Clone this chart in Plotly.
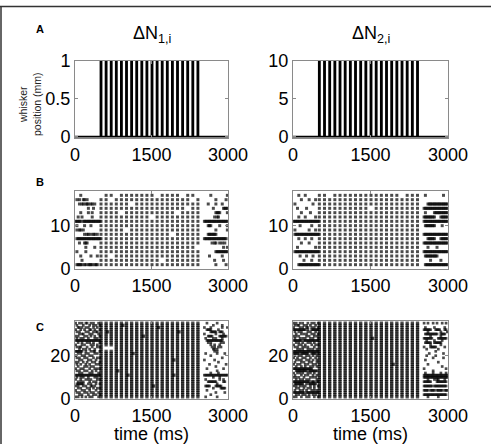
import plotly.graph_objects as go

FIG_W, FIG_H = 491, 444
FONT = "Liberation Sans, Arial, Helvetica, sans-serif"

T_MAX = 3000
PULSE_ONSETS = [500, 600, 700, 800, 900, 1000, 1100, 1200, 1300, 1400,
                1500, 1600, 1700, 1800, 1900, 2000, 2100, 2200, 2300, 2400]
PULSE_WIDTH = 20
AMPLITUDES = [1, 10]
TITLES = ["ΔN<sub>1,i</sub>", "ΔN<sub>2,i</sub>"]
X_TICKS = [0, 1500, 3000]
Y_TICKS_A = [[0, 0.5, 1], [0, 5, 10]]
Y_TICKTEXT_A = [["0", "0.5", "1"], ["0", "5", "10"]]
Y_TICKS_B = [0, 10]
Y_TICKS_C = [0, 20]
BIN_MS = 25
PRE_START = 0
POST_START = 2500
SPIKE_LATENCY = 10
DOUBLET_GAP = 30

# ---------- Row B (17 neurons), listed from top neuron to bottom neuron ----------
B1_PRE = [
    "....#...............",
    ".#.#..##.#..........",
    "...#.##.###.##.#....",
    "..........#...#.....",
    "....#.....#..#......",
    "..#..#.......#......",
    "#####.##############",
    ".#.....#....#.......",
    ".#.##.#.............",
    ".......#.##.#.##.#..",
    ".###################",
    "...#...###..........",
    "........#......#....",
    ".#......#...........",
    "....#.......#....#..",
    ".....#..............",
    ".#####.##.####.###..",
]
B1_STIM = [
    "01101111111011110110",
    "11011111111111111101",
    "11111101111111111111",
    "11111111111111111011",
    "11110111111111101111",
    "11111111110111111111",
    "11111111111111111111",
    "11111111111111111111",
    "11111011111111111111",
    "11111111111111011111",
    "11111111111111111111",
    "11111111111111111111",
    "11111111111111111110",
    "11111111111111111111",
    "11011111111111111111",
    "11111111111101111111",
    "11111111111111111111",
]
B1_POST = [
    "......#............#",
    "..........#.......#.",
    "....#.....#....#....",
    "........#.......####",
    "..........####.....#",
    ".........#.##.......",
    ".###################",
    "....###......#.....#",
    "..........#........#",
    "....#######.........",
    ".##################.",
    ".......#.##..#.#.#..",
    "................#..#",
    "..........##########",
    ".....#.........#....",
    ".........#......#...",
    "..........#.......#.",
]
B2_PRE = [
    "....#....#..........",
    "......#.....#....#..",
    ".#.............#....",
    "...#......#.........",
    "......#......#......",
    "....#....#.......#..",
    "####################",
    ".....#........#.....",
    ".#..........#....#..",
    ".###################",
    "....#....#....#.....",
    "......#.....#.......",
    "...#.............#..",
    ".###################",
    ".....#....#....#....",
    "........#.....#.....",
    "....################",
]
B2_STIM = [
    "11011111111111110111",
    "11111111111111111111",
    "11111111111111111111",
    "11111111110111111111",
    "11111111111111111111",
    "11111111111111111111",
    "11111111111111111111",
    "11111111111111111111",
    "11111111111111111111",
    "11111111111111111111",
    "11111111111111111111",
    "11111111111111111111",
    "11111111111111111111",
    "11111111111111111111",
    "11111111111111111111",
    "11111111111111111111",
    "11111111111111111111",
]
B2_POST = [
    "..#.............#...",
    "....................",
    "....################",
    ".###################",
    "..#......###########",
    ".#########....######",
    ".###################",
    "..########.....#....",
    "....................",
    ".###################",
    "....######....######",
    ".###################",
    "....#......#........",
    ".###################",
    "..##########........",
    "......#.......#.....",
    "..##################",
]

# ---------- Row C (35 neurons), listed from top neuron to bottom neuron ----------
C1_PRE = [
    "#..#.#..##..#.#...#.",
    ".#....#....#..#.#..#",
    "..##.#..#.#...#..#..",
    "#...#..#...##..#...#",
    ".#.#....#.#...#.##..",
    "...#.##....#.#....#.",
    "#.#....#.#..#..#...#",
    ".#..#.#...#....#.#..",
    "####################",
    "..#..#...#.#..#....#",
    "#....#.#....#.#..#..",
    ".#.##....#...#...#.#",
    "...#..#.#..#...#....",
    "######..#...#.##...#",
    "..#.#...#.#....#.#..",
    "#....#.#...#.#......",
    ".#.#...#.#....#..#.#",
    "...#.#....#.#...#...",
    "#.#...#..#...#.#...#",
    ".#..#...#..#....#.#.",
    "..#....#.#..#.#.....",
    "#...#.#....#...#.#.#",
    ".#.#...#.#...#..#...",
    "...#.#.....#.#....#.",
    "####################",
    ".#..#.#...#....#.#..",
    "#...#...#.#.#....#.#",
    "..#.#.#....#..#.#...",
    ".######...#.#...#..#",
    "#.#...#.#...##.#....",
    "..#.#....#.#..#..#.#",
    "#....#.#...#....#...",
    ".#.#...#.#..#.#...#.",
    "...#.#....#...#.#..#",
    "#.#..#..#..#.#....#.",
]
C1_STIM = [
    "11111111111111111111",
    "11112111111111111111",
    "11111111111211111111",
    "11111111111111111111",
    "12111111111111121111",
    "11111111111111111111",
    "11111111211111111111",
    "11111111111111111111",
    "11111111111111111111",
    "11111111111111111111",
    "11111111111111111111",
    "10011111111111111111",
    "10011111111111111111",
    "11111111111111111111",
    "11111121111111111111",
    "11111111111111111111",
    "11111111111111111111",
    "11111111111111211111",
    "11111111111111111111",
    "11111111111111111111",
    "11111111111111111111",
    "11111111111111111111",
    "11121111111111111111",
    "11111111111111111111",
    "11111211111111211111",
    "11111111111111111111",
    "11111111111111111111",
    "11111111111111111111",
    "11111111111111111111",
    "11111111112111111111",
    "11111111111111111111",
    "11111111111111111111",
    "11111111111111111111",
    "11111111111111111111",
    "11111111111111111111",
]
C1_POST = [
    "...#.......#........",
    "........#......#....",
    ".#....#........#...#",
    "...####.....#.......",
    "......#####..###....",
    ".#........#.....#...",
    "....####.....######.",
    "..#.....#.#....#....",
    "...#############....",
    "....#.#.......#.#...",
    "......#..#...#......",
    ".......#.#..#.#.....",
    "........##.#........",
    ".........#.#........",
    "..#........#.....#..",
    "......#.............",
    "...............#....",
    ".#.......#..........",
    "............#.......",
    ".....#............#.",
    "..........#.........",
    "...#............#...",
    "...........#........",
    "......#.....#.......",
    ".###################",
    "........#....#......",
    "..#..........#..#...",
    "....#######.....##..",
    "...........#........",
    "..####....#####.....",
    "........#.....####..",
    "...#................",
    "..........#......#..",
    "......#.............",
    "..#........#........",
]
C2_PRE = [
    "#.#..#.#...#..#.#..#",
    ".#.##...#.#..#...#..",
    "#....#.#..##..#.#..#",
    "##########.#..######",
    ".#..#.#....#.#...#..",
    "..#...#.#.#...#.#..#",
    "#.#.#.....#.#...#.#.",
    ".#...#.#.#...#.#...#",
    "#######.############",
    "..#.#..#...#.#..#...",
    "#...#.#..#....#..#.#",
    ".#.#...#.#.#....#...",
    "...#.#.#...#.#.#..#.",
    "####################",
    "#####.######..####.#",
    ".#..#.#...#.#..#..#.",
    "#..#...#.#...#...#..",
    "..#.#.#...#.#..#..#.",
    ".#....#.#...#.#...#.",
    "#..#.#...#.#...#.#..",
    "..#...#..#...#.#..#.",
    "###############.....",
    "..#########.#######.",
    "#..#.#.#...#.#..#...",
    ".#....#..#.#...#..#.",
    "#.#.#...#....#.#.#..",
    "..#..#.#..#.#.....#.",
    "#############.###.##",
    ".#######..#.######..",
    "#.#..#.#.#...#..#..#",
    "..#.#...#..#.#..#...",
    ".#...#.#..#...#.#.#.",
    "#########.##########",
    "..#.#..#.#..#..#.#..",
    "#.#...#...#.#...#..#",
]
C2_STIM = [
    "11111111111111111111",
    "11111111111111111111",
    "11111111111111111111",
    "11111111111111111111",
    "11111111111111111111",
    "11111111111111111111",
    "11111111111111111111",
    "11111111112111111111",
    "11111111111111111111",
    "11111111111111111111",
    "11111111111111111111",
    "11111111111111111111",
    "11111111111111111111",
    "11111111111111111111",
    "11111111111111111111",
    "11111111111111111111",
    "11111111111111111111",
    "11111111111111111111",
    "11111111111111111111",
    "11111111111111211111",
    "11111111111111111111",
    "11111111111111111111",
    "11111111111111111111",
    "11111111111111111111",
    "11111111111111111111",
    "11111111111111111111",
    "11111111111111111111",
    "11111111111111111111",
    "11111111111111111111",
    "11111111111111111111",
    "11111111111111111111",
    "11111111111111111111",
    "11111111111111111111",
    "11111111111111111111",
    "11111111111111111111",
]
C2_POST = [
    ".#..#...#..#...#..#.",
    "....................",
    "..#......#.......#..",
    ".######...####...##.",
    "....#.........#....#",
    "..##########..####..",
    "......#.......#.....",
    ".#######....#######.",
    "...#.....#.....#....",
    "..#####..######.....",
    "......#.......#.....",
    ".#....#####......#..",
    "...#........#.......",
    "..........#.........",
    ".....#..........#...",
    "...#......#.........",
    "........#.......#...",
    "..#.................",
    "............#.......",
    "....#...............",
    "...............#....",
    ".#................#.",
    "........#...........",
    "..#.....#.....#...#.",
    ".###################",
    ".###################",
    "....#....#.##....#..",
    ".######....########.",
    "....................",
    ".#######.##########.",
    "....................",
    ".####.####.#####.###",
    "....................",
    ".##################.",
    "....#.......#.......",
]


def raster(pre_rows, stim_rows, post_rows):
    """Return spike times, neuron ids and a flag telling if the spike is stimulus-locked."""
    n = len(pre_rows)
    xs, ys, locked = [], [], []
    for i in range(n):
        nid = n - i
        for b, c in enumerate(pre_rows[i]):
            if c == "#":
                xs.append(PRE_START + b * BIN_MS + BIN_MS / 2)
                ys.append(nid)
                locked.append(False)
        for k, c in enumerate(stim_rows[i]):
            if c in "12":
                xs.append(PULSE_ONSETS[k] + SPIKE_LATENCY)
                ys.append(nid)
                locked.append(True)
            if c == "2":
                xs.append(PULSE_ONSETS[k] + SPIKE_LATENCY + DOUBLET_GAP)
                ys.append(nid)
                locked.append(True)
        for b, c in enumerate(post_rows[i]):
            if c == "#":
                xs.append(POST_START + b * BIN_MS + BIN_MS / 2)
                ys.append(nid)
                locked.append(False)
    return xs, ys, locked, n


def whisker_trace(amp):
    xs, ys = [0], [0]
    for on in PULSE_ONSETS:
        xs += [on, on, on + PULSE_WIDTH, on + PULSE_WIDTH]
        ys += [0, amp, amp, 0]
    xs.append(T_MAX)
    ys.append(0)
    return xs, ys


def px_x(p):
    return p / FIG_W


def px_y(p):
    return 1 - p / FIG_H


COL_X = [(75, 228), (293, 448)]
ROW_Y = [(61, 138), (191, 269), (321, 399)]

fig = go.Figure()

AX_LINE = "#8a8a8a"
base_axis = dict(
    showline=True, linecolor=AX_LINE, linewidth=1, mirror="ticks",
    ticks="inside", ticklen=3, tickcolor=AX_LINE, tickwidth=1,
    showgrid=False, zeroline=False, automargin=False,
    tickfont=dict(family=FONT, size=18, color="black"),
)

layout_axes = {}
ax_idx = 0
for r in range(3):
    for c in range(2):
        ax_idx += 1
        xname = "x" if ax_idx == 1 else f"x{ax_idx}"
        yname = "y" if ax_idx == 1 else f"y{ax_idx}"
        if r == 0:
            amp = AMPLITUDES[c]
            xs, ys = whisker_trace(amp)
            fig.add_trace(go.Scatter(x=xs, y=ys, mode="lines",
                                     line=dict(color="black", width=1.8),
                                     xaxis=xname, yaxis=yname, showlegend=False,
                                     hoverinfo="skip"))
            yr = [-0.018 * amp, amp]
            ytv, ytt = Y_TICKS_A[c], Y_TICKTEXT_A[c]
        else:
            if r == 1:
                data = (B1_PRE, B1_STIM, B1_POST) if c == 0 else (B2_PRE, B2_STIM, B2_POST)
                ytv = Y_TICKS_B
                sizes = (3.0, 3.0)
            else:
                data = (C1_PRE, C1_STIM, C1_POST) if c == 0 else (C2_PRE, C2_STIM, C2_POST)
                ytv = Y_TICKS_C
                sizes = (2.7, 3.3)
            xs, ys, locked, n = raster(*data)
            msz = [sizes[1] if lk else sizes[0] for lk in locked]
            fig.add_trace(go.Scatter(x=xs, y=ys, mode="markers",
                                     marker=dict(symbol="square", size=msz, color="black",
                                                 line=dict(width=0)),
                                     xaxis=xname, yaxis=yname, showlegend=False,
                                     hoverinfo="skip"))
            yr = [0, n + 1]
            ytt = [str(v) for v in ytv]
        x0, x1 = COL_X[c]
        y0, y1 = ROW_Y[r]
        xa = dict(base_axis, domain=[px_x(x0), px_x(x1)], range=[0, T_MAX],
                  tickvals=X_TICKS, ticktext=[str(v) for v in X_TICKS],
                  anchor=yname)
        ya = dict(base_axis, domain=[px_y(y1), px_y(y0)], range=yr,
                  tickvals=ytv, ticktext=ytt, anchor=xname)
        layout_axes["xaxis" if ax_idx == 1 else f"xaxis{ax_idx}"] = xa
        layout_axes["yaxis" if ax_idx == 1 else f"yaxis{ax_idx}"] = ya

annotations = []
for c, title in enumerate(TITLES):
    cx = (COL_X[c][0] + COL_X[c][1]) / 2
    annotations.append(dict(text=title, x=px_x(cx), y=px_y(34), xref="paper", yref="paper",
                            xanchor="center", yanchor="middle", showarrow=False,
                            font=dict(family=FONT, size=18, color="black")))
    annotations.append(dict(text="time (ms)", x=px_x(cx), y=px_y(434), xref="paper", yref="paper",
                            xanchor="center", yanchor="middle", showarrow=False,
                            font=dict(family=FONT, size=18, color="black")))
for letter, py in (("A", 29), ("B", 182), ("C", 327)):
    annotations.append(dict(text=f"<b>{letter}</b>", x=px_x(40), y=px_y(py), xref="paper",
                            yref="paper", xanchor="center", yanchor="middle", showarrow=False,
                            font=dict(family=FONT, size=11, color="black")))
annotations.append(dict(text="whisker<br>position (mm)", x=px_x(30), y=px_y(104), xref="paper",
                        yref="paper", xanchor="center", yanchor="middle", showarrow=False,
                        textangle=-90, font=dict(family=FONT, size=10.5, color="#222222")))

shapes = [
    dict(type="line", xref="paper", yref="paper", x0=0, x1=1, y0=px_y(6.5), y1=px_y(6.5),
         line=dict(color="#333333", width=1.5)),
    dict(type="line", xref="paper", yref="paper", x0=px_x(1), x1=px_x(1), y0=0, y1=px_y(6.5),
         line=dict(color="#333333", width=1.5)),
]

fig.update_layout(
    width=FIG_W, height=FIG_H,
    margin=dict(l=0, r=0, t=0, b=0, autoexpand=False),
    paper_bgcolor="white", plot_bgcolor="white",
    font=dict(family=FONT, color="black"),
    annotations=annotations, shapes=shapes,
    showlegend=False,
    **layout_axes,
)

fig.write_html("out.html")
